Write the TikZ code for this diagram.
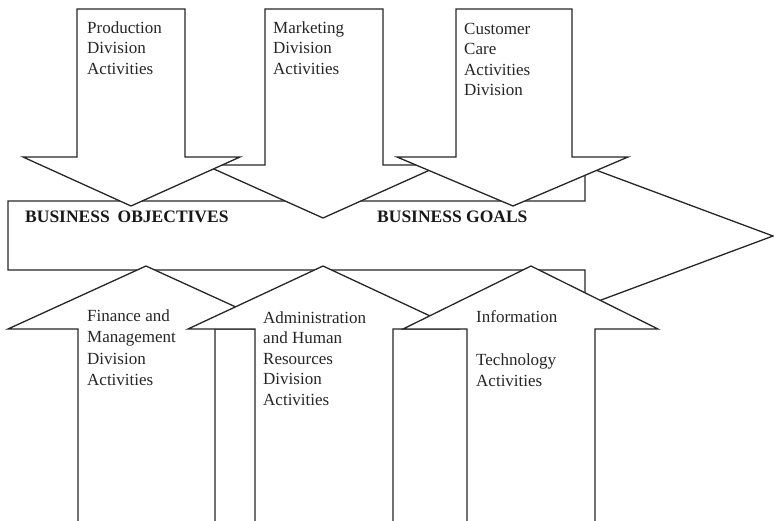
\documentclass[tikz,border=0pt]{standalone}
\usepackage{fontspec}
\setmainfont{Liberation Serif}
\begin{document}
\begin{tikzpicture}[x=1pt,y=-1pt,
  shape line/.style={draw=black!85,line width=1.3pt,fill=white,line join=miter},
  lbl/.style={anchor=base west,inner sep=0pt,align=left,font=\fontsize{17}{20.5}\selectfont,text=black!85},
  goal/.style={anchor=base west,inner sep=0pt,font=\fontsize{17.5}{20}\selectfont\bfseries,text=black!90}]
\useasboundingbox (0,0) rectangle (774,520);
\clip (0,0) rectangle (774,520);
% main horizontal arrow
\draw[shape line] (8,201) -- (585,201) -- (585,166) -- (773,236) -- (585,306) -- (585,270) -- (8,270) -- cycle;
% downward arrows (the middle one lies underneath its neighbours)
\draw[shape line] (265,9) -- (383,9) -- (383,165) -- (441,165) -- (323,218) -- (205,165) -- (265,165) -- cycle;
\draw[shape line] (77,9) -- (185,9) -- (185,157) -- (240,157) -- (131,206) -- (23,157) -- (77,157) -- cycle;
\draw[shape line] (456,9) -- (572,9) -- (572,157) -- (628,157) -- (513,206) -- (397,157) -- (456,157) -- cycle;
% upward arrows
\draw[shape line] (78,530) -- (78,329) -- (8,329) -- (146,266) -- (284,329) -- (215,329) -- (215,530);
\draw[shape line] (255,530) -- (255,329) -- (188,329) -- (323,266) -- (458,329) -- (393,329) -- (393,530);
\draw[shape line] (467,530) -- (467,329) -- (403,329) -- (531,266) -- (658,329) -- (595,329) -- (595,530);
% labels (each node sits on the baseline of its last line)
\node[lbl] (prod) at (87,74) {Production\\Division\\Activities};
\node[lbl] (mkt) at (273,74) {Marketing\\Division\\Activities};
\node[lbl] (cc) at (464,95.5) {Customer\\Care\\Activities\\Division};
\node[lbl,font=\fontsize{17}{21.5}\selectfont] (fin) at (87,385.5) {Finance and\\Management\\Division\\Activities};
\node[lbl] (adm) at (263,405) {Administration\\and Human\\Resources\\Division\\Activities};
\node[lbl,font=\fontsize{17}{21.5}\selectfont] (it) at (476,386.5) {Information\\[21.5pt]Technology\\Activities};
\node[goal] (obj) at (25,222) {BUSINESS\hspace{0.45em}OBJECTIVES};
\node[goal] (gls) at (377,222) {BUSINESS GOALS};
\end{tikzpicture}
\end{document}
